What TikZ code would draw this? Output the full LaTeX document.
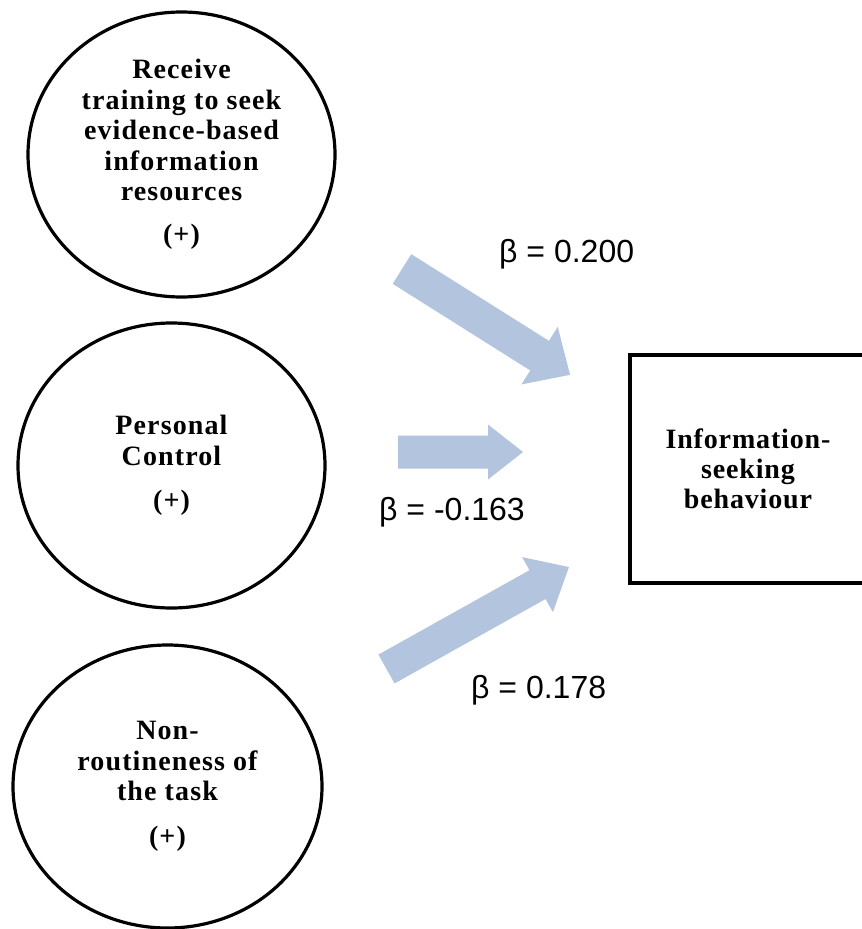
\documentclass[tikz,border=0pt]{standalone}
\usepackage{fontspec}
\setmainfont{Liberation Serif}
\newfontfamily\betafont{Liberation Sans}
\usetikzlibrary{shapes.geometric}
\definecolor{arrowblue}{RGB}{178,196,222}
\tikzset{
  construct/.style={ellipse, draw, line width=3.2pt, inner sep=0pt, align=center,
    font=\fontsize{28}{30.5}\selectfont\bfseries\addfontfeature{LetterSpace=4}},
  outcome/.style={rectangle, draw, line width=3.2pt, inner sep=0pt, align=center,
    font=\fontsize{28}{30}\selectfont\bfseries\addfontfeature{LetterSpace=3}},
  betalabel/.style={inner sep=0pt, anchor=base west, font=\fontsize{32}{36}\betafont},
  pics/blockarrow/.style args={#1/#2/#3/#4}{code={
    \fill[arrowblue] (0,-#2/2) -- ({#1-#4},-#2/2) -- ({#1-#4},-#3/2) -- (#1,0)
      -- ({#1-#4},#3/2) -- ({#1-#4},#2/2) -- (0,#2/2) -- cycle;}}
}
\begin{document}
\begin{tikzpicture}[x=1pt,y=-1pt]
\clip (0,0) rectangle (862,929);
\fill[white] (0,0) rectangle (862,929);

\node[construct, minimum width=307pt, minimum height=285pt] (train) at (181.5,154.5)
  {Receive\\training to seek\\evidence-based\\information\\resources\\[12pt](+)};
\node[construct, minimum width=307pt, minimum height=285pt] (control) at (171.5,465.5)
  {Personal\\Control\\[14pt](+)};
\node[construct, minimum width=309pt, minimum height=283pt] (task) at (167.5,786.5)
  {Non-\\routineness of\\the task\\[14pt](+)};

\node[outcome, minimum width=236pt, minimum height=228pt] (isb) at (748,469)
  {Information-\\seeking\\behaviour};

\pic[rotate=-32.2] (a1) at (402,269) {blockarrow=198.6/35/68/36};
\pic (a2) at (398,452) {blockarrow=125/33/55/35};
\pic[rotate=29.2] (a3) at (386.5,669) {blockarrow=209/33/63/36};

\node[betalabel] (b1) at (499,262) {β = 0.200};
\node[betalabel] (b2) at (379,520) {β = -0.163};
\node[betalabel] (b3) at (471,698) {β = 0.178};
\end{tikzpicture}
\end{document}
